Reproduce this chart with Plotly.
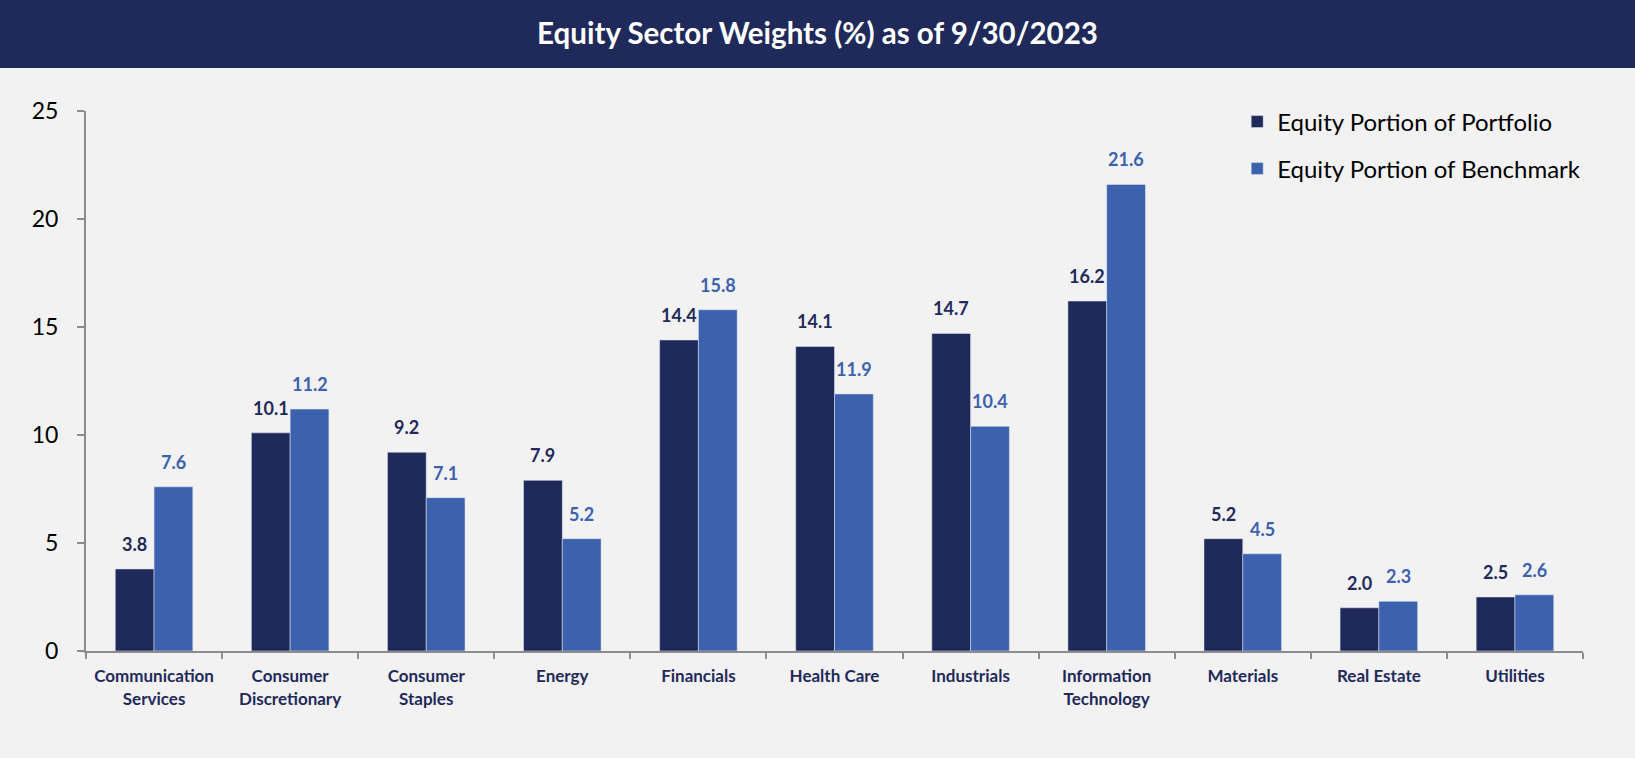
import plotly.graph_objects as go

categories = ["Communication<br>Services", "Consumer<br>Discretionary", "Consumer<br>Staples",
              "Energy", "Financials", "Health Care", "Industrials",
              "Information<br>Technology", "Materials", "Real Estate", "Utilities"]
portfolio = [3.8, 10.1, 9.2, 7.9, 14.4, 14.1, 14.7, 16.2, 5.2, 2.0, 2.5]
benchmark = [7.6, 11.2, 7.1, 5.2, 15.8, 11.9, 10.4, 21.6, 4.5, 2.3, 2.6]
series_names = ["Equity Portion of Portfolio", "Equity Portion of Benchmark"]
y_ticks = [0, 5, 10, 15, 20, 25]

DARK = "#1F2A5A"
BLUE = "#3C61AD"
AXIS = "#8C8C8C"
FONT = "Lato"
BARGAP = 0.43

fig = go.Figure()
fig.add_trace(go.Bar(x=categories, y=portfolio, name=series_names[0], marker_color=DARK,
                     legend="legend", showlegend=True))
fig.add_trace(go.Bar(x=categories, y=benchmark, name=series_names[1], marker_color=BLUE,
                     legend="legend2", showlegend=True))

# value labels above each bar (placed in data coordinates of the category axis)
half = (1 - BARGAP) / 4
annotations = []
for series, color, sign in ((portfolio, DARK, -1), (benchmark, BLUE, 1)):
    for i, v in enumerate(series):
        annotations.append(dict(
            x=i + sign * half, y=v, xref="x", yref="y", text=f"{v:.1f}",
            showarrow=False, xanchor="center", yanchor="bottom", yshift=12,
            font=dict(family=FONT, size=18, color=color, weight="bold")))

fig.update_layout(
    width=1635, height=758,
    paper_bgcolor="#F2F2F2", plot_bgcolor="#F2F2F2",
    margin=dict(l=86, r=52, t=111, b=107),
    barmode="group", bargap=BARGAP, bargroupgap=0,
    showlegend=True,
    font=dict(family=FONT, color="#000000"),
    title=dict(text="<b>Equity Sector Weights (%) as of 9/30/2023</b>",
               x=0.5, xref="container", xanchor="center", y=1 - 34 / 758, yanchor="middle",
               font=dict(family=FONT, size=29.5, color="white")),
    shapes=[dict(type="rect", xref="paper", yref="paper", ysizemode="pixel", yanchor=1,
                 x0=-0.2, x1=1.2, y0=111 - 68, y1=200, fillcolor=DARK, line_width=0,
                 layer="below")],
    annotations=annotations,
    xaxis=dict(showline=True, linecolor=AXIS, linewidth=2, ticks="outside",
               tickson="boundaries", ticklen=6, tickcolor=AXIS, tickwidth=2,
               ticklabelstandoff=9,
               tickfont=dict(family=FONT, size=17, color=DARK, weight="bold"),
               showgrid=False, zeroline=False),
    yaxis=dict(range=[0, 25], tickvals=y_ticks, showline=True, linecolor=AXIS, linewidth=2,
               ticks="outside", ticklen=7, tickcolor=AXIS, tickwidth=2,
               ticklabelstandoff=14,
               tickfont=dict(family=FONT, size=23, color="#000000"),
               showgrid=False, zeroline=False),
    legend=dict(x=0.769, y=1 - (122 - 111) / 540, xanchor="left", yanchor="middle",
                bgcolor="rgba(0,0,0,0)", font=dict(family=FONT, size=24, color="#000000")),
    legend2=dict(x=0.769, y=1 - (169 - 111) / 540, xanchor="left", yanchor="middle",
                 bgcolor="rgba(0,0,0,0)", font=dict(family=FONT, size=24, color="#000000")),
)

fig.write_html("out.html", config={"displayModeBar": False},
               post_script="document.body.style.margin='0';document.body.style.overflow='hidden';")
